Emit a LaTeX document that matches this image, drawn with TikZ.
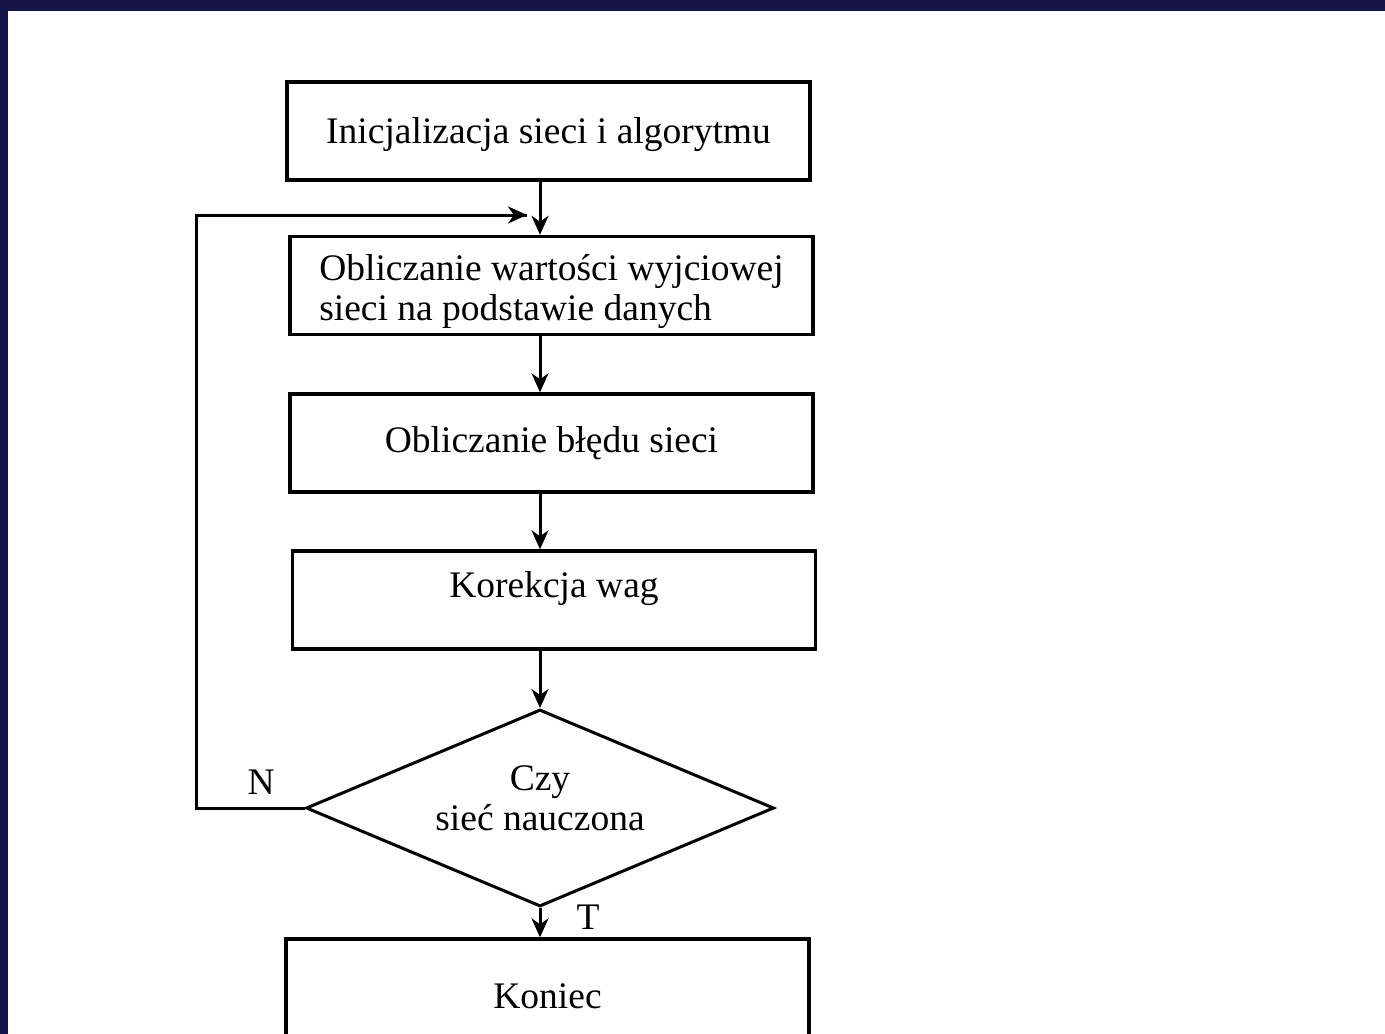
\documentclass[tikz,border=0pt]{standalone}
\usepackage{fontspec}
\setmainfont{Liberation Serif}
\usetikzlibrary{shapes.geometric, arrows.meta}
\definecolor{navyband}{RGB}{20,20,72}

\begin{document}
\begin{tikzpicture}[x=1pt, y=-1pt]
    % Setup the styles for the blocks
        \tikzset{box style/.style={draw, rectangle,
                                   minimum width=523pt,
                                   minimum height=98pt,
                                   line width=3.4pt,
                                   font=\fontsize{37.5}{40}\selectfont},
                 test style/.style={draw, diamond,
                                    aspect=2.38,
                                    inner sep=0pt,
                                    minimum width=468pt,
                                    minimum height=197pt,
                                    line width=3pt,
                                    align=center,
                                    font=\fontsize{37.5}{40}\selectfont}}
        % Page and its frame
        \useasboundingbox (0,0) rectangle (1385,1034);
        \fill[white] (0,0) rectangle (1385,1034);
        \fill[navyband] (0,0) rectangle (1385,11);
        \fill[navyband] (0,0) rectangle (8,1034);
        % Draw the blocks
        \node[box style, text height=33pt] at (548.5,131) (init) {Inicjalizacja sieci i algorytmu};
        \node[box style, align=left, inner sep=0pt, text height=79pt] at (551.5,285.5) (output) {Obliczanie wartości wyjciowej\\sieci na podstawie danych};
        \node[box style] at (551.5,443) (error) {Obliczanie błędu sieci};
        \node[box style, text depth=31pt] at (554,600) (weights) {Korekcja wag};
        \node[test style, text depth=19pt] at (540,808) (test) {Czy\\sieć nauczona};
        \node[box style, minimum height=115pt] at (547.5,996.5) (stop) {Koniec};
        \coordinate (turn) at (196,808);
        \coordinate (join) at (527,215);
        % Connect the blocks with arrows
        \draw[line width=3pt,
              font=\fontsize{37.5}{40}\selectfont,
              >={Stealth[length=19pt,width=17pt,inset=6pt]}]
            (init.south -| test.north)    edge[->] (output.north -| test.north)
            (output.south -| test.north)  edge[->] (error.north -| test.north)
            (error.south -| test.north)   edge[->] (weights.north -| test.north)
            (weights.south -| test.north) edge[->] (test.north)
            (test.south)                  edge[->] node[pos=0.3, right=31pt, inner sep=4pt] {T} (test.south |- stop.north)
            (test.west) -- node[pos=0.4, above=8pt, inner sep=4pt] {N} (turn) |- (join)
            (join) edge[<-] ++(-1,0);
\end{tikzpicture}
\end{document}
